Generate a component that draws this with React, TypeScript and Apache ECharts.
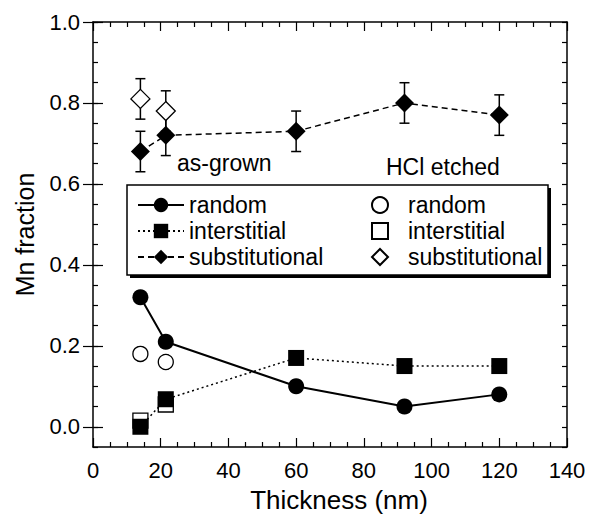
import React, { useEffect, useRef } from "react";
import * as echarts from "echarts";

// ---- data ----
const thicknessGrown = [14, 21.5, 60, 92, 120];
const randomGrown = [0.32, 0.21, 0.1, 0.05, 0.08];
const interstitialGrown = [0.0, 0.068, 0.17, 0.15, 0.15];
const substitutionalGrown = [0.68, 0.72, 0.73, 0.8, 0.77];
const substitutionalGrownErr = [0.05, 0.05, 0.05, 0.05, 0.05];

const thicknessEtched = [14, 21.5];
const randomEtched = [0.18, 0.16];
const randomEtchedErr = [0.017, 0.017];
const interstitialEtched = [0.015, 0.055];
const substitutionalEtched = [0.81, 0.78];
const substitutionalEtchedErr = [0.05, 0.05];

const seriesNames = ["random", "interstitial", "substitutional"];
const xTitle = "Thickness (nm)";
const yTitle = "Mn fraction";

const FONT = "'Liberation Sans', Arial, sans-serif";

const pairs = (xs: number[], ys: number[]) => xs.map((x, i) => [x, ys[i]]);
const errRows = (xs: number[], ys: number[], es: number[]) =>
  xs.map((x, i) => [x, ys[i] - es[i], ys[i] + es[i]]);

export default function App() {
  const ref = useRef<HTMLDivElement>(null);

  useEffect(() => {
    document.body.style.margin = "0";
    if (!ref.current) return;
    const chart = echarts.init(ref.current, undefined, { renderer: "svg" });

    const axisLine = { show: true, onZero: false, lineStyle: { color: "#000", width: 1.5 } };

    const xBase = (pos: "bottom" | "top", labels: boolean) => ({
      type: "value",
      position: pos,
      min: 0,
      max: 140,
      interval: 20,
      axisLine,
      axisTick: { show: true, inside: true, length: 9, lineStyle: { color: "#000", width: 1.2 } },
      minorTick: { show: true, splitNumber: 4, length: 5, lineStyle: { color: "#000", width: 1.2 } },
      splitLine: { show: false },
      axisLabel: labels
        ? { show: true, color: "#000", fontSize: 22, fontFamily: FONT, margin: 12 }
        : { show: false },
      ...(labels
        ? {
            name: xTitle,
            nameLocation: "middle",
            nameGap: 40,
            nameTextStyle: { color: "#000", fontSize: 26, fontFamily: FONT, padding: [0, 0, 0, 18] },
          }
        : {}),
    });

    const yMinor = (pos: "left" | "right", labels: boolean) => ({
      type: "value",
      position: pos,
      min: -0.05,
      max: 1.0,
      interval: 0.05,
      axisLine,
      axisTick: { show: true, inside: true, length: 5, lineStyle: { color: "#000", width: 1.2 } },
      splitLine: { show: false },
      axisLabel: labels
        ? {
            show: true,
            color: "#000",
            fontSize: 22,
            fontFamily: FONT,
            margin: 13,
            formatter: (v: number) => {
              const r = Math.round(v * 100) / 100;
              if (r < -1e-9) return "";
              if (Math.abs(r * 5 - Math.round(r * 5)) > 1e-6) return "";
              return r.toFixed(1);
            },
          }
        : { show: false },
      ...(labels
        ? {
            name: yTitle,
            nameLocation: "middle",
            nameGap: 56,
            nameTextStyle: { color: "#000", fontSize: 25, fontFamily: FONT },
          }
        : {}),
    });

    const yMajor = (pos: "left" | "right") => ({
      type: "value",
      position: pos,
      min: -0.05,
      max: 1.0,
      axisLine: { show: false },
      axisTick: {
        show: true,
        inside: true,
        length: 10,
        customValues: [0, 0.2, 0.4, 0.6, 0.8, 1.0],
        lineStyle: { color: "#000", width: 1.2 },
      },
      splitLine: { show: false },
      axisLabel: { show: false },
    });

    const errorBar = (data: number[][], cap: number, name: string) => ({
      type: "custom",
      name,
      xAxisIndex: 0,
      yAxisIndex: 0,
      silent: true,
      data,
      renderItem: (params: any, api: any) => {
        const x = api.value(0);
        const lo = api.coord([x, api.value(1)]);
        const hi = api.coord([x, api.value(2)]);
        const style = { stroke: "#000", lineWidth: 1.5, fill: "none" };
        return {
          type: "group",
          children: [
            { type: "line", shape: { x1: lo[0], y1: lo[1], x2: hi[0], y2: hi[1] }, style },
            { type: "line", shape: { x1: lo[0] - cap, y1: lo[1], x2: lo[0] + cap, y2: lo[1] }, style },
            { type: "line", shape: { x1: hi[0] - cap, y1: hi[1], x2: hi[0] + cap, y2: hi[1] }, style },
          ],
        };
      },
    });

    const openScatter = (name: string, symbol: string, size: number, data: number[][]) => ({
      type: "scatter",
      name: name + " ",
      data,
      symbol,
      symbolSize: size,
      symbolKeepAspect: true,
      itemStyle: { color: "#fff", borderColor: "#000", borderWidth: 1.3, opacity: 1 },
      xAxisIndex: 0,
      yAxisIndex: 0,
      silent: true,
    });

    const filledLine = (name: string, symbol: string, size: number | number[], data: number[][], lineType: any, width: number) => ({
      type: "line",
      name,
      data,
      symbol,
      symbolSize: size,
      showAllSymbol: true,
      itemStyle: { color: "#000", borderColor: "#000", borderWidth: 0 },
      lineStyle: { color: "#000", width, type: lineType },
      xAxisIndex: 0,
      yAxisIndex: 0,
      silent: true,
      z: 3,
    });

    const legendText = { color: "#000", fontSize: 23, fontFamily: FONT, lineHeight: 26 };

    const option: any = {
      animation: false,
      backgroundColor: "#fff",
      textStyle: { fontFamily: FONT, color: "#000" },
      grid: { left: 93, right: 23, top: 22, bottom: 70, containLabel: false },
      xAxis: [xBase("bottom", true), xBase("top", false)],
      yAxis: [yMinor("left", true), yMinor("right", false), yMajor("left"), yMajor("right")],
      legend: [
        {
          data: seriesNames,
          orient: "vertical",
          left: 137,
          top: 192,
          padding: 0,
          itemWidth: 46,
          itemHeight: 18,
          itemGap: 0,
          selectedMode: false,
          textStyle: legendText,
          z: 5,
        },
        {
          data: seriesNames.map((n) => n + " "),
          orient: "vertical",
          left: 371,
          top: 192,
          padding: 0,
          itemWidth: 16,
          itemHeight: 16,
          itemGap: 0,
          symbolKeepAspect: true,
          selectedMode: false,
          formatter: (n: string) => n.trim(),
          textStyle: { ...legendText, padding: [0, 0, 0, 15] },
          z: 5,
        },
      ],
      graphic: [
        { type: "rect", z: 4, shape: { x: 130, y: 188, width: 421, height: 90 }, style: { fill: "#000" } },
        {
          type: "rect",
          z: 4,
          shape: { x: 127, y: 185, width: 421, height: 90 },
          style: { fill: "#fff", stroke: "#000", lineWidth: 1.5 },
        },
        {
          type: "text",
          z: 4,
          x: 177,
          y: 163,
          style: { text: "as-grown", fontSize: 23, fontFamily: FONT, fill: "#000", verticalAlign: "middle" },
        },
        {
          type: "text",
          z: 4,
          x: 386,
          y: 167,
          style: { text: "HCl etched", fontSize: 23, fontFamily: FONT, fill: "#000", verticalAlign: "middle" },
        },
      ],
      series: [
        errorBar(errRows(thicknessEtched, substitutionalEtched, substitutionalEtchedErr), 5, "err-sub-etched"),
        errorBar(errRows(thicknessEtched, randomEtched, randomEtchedErr), 3, "err-rand-etched"),
        openScatter(seriesNames[0], "circle", 15, pairs(thicknessEtched, randomEtched)),
        openScatter(seriesNames[1], "rect", 15, pairs(thicknessEtched, interstitialEtched)),
        openScatter(seriesNames[2], "diamond", 19, pairs(thicknessEtched, substitutionalEtched)),
        errorBar(errRows(thicknessGrown, substitutionalGrown, substitutionalGrownErr), 5, "err-sub-grown"),
        filledLine(seriesNames[0], "circle", 16, pairs(thicknessGrown, randomGrown), "solid", 2),
        filledLine(seriesNames[1], "rect", 16, pairs(thicknessGrown, interstitialGrown), [2, 3], 1.5),
        filledLine(seriesNames[2], "diamond", 19, pairs(thicknessGrown, substitutionalGrown), [6, 4], 1.5),
      ],
    };

    chart.setOption(option);
    return () => chart.dispose();
  }, []);

  return <div ref={ref} style={{ width: 590, height: 518 }} />;
}
